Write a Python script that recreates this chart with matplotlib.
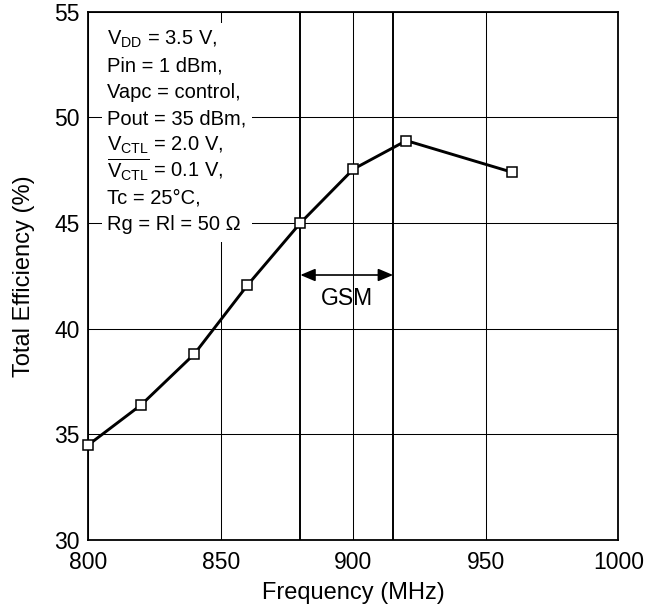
import matplotlib
matplotlib.use("Agg")
import matplotlib.pyplot as plt
from matplotlib.patches import Rectangle

# Measured efficiency vs. frequency
freq_mhz = [800, 820, 840, 860, 880, 900, 920, 960]
efficiency_pct = [34.5, 36.4, 38.8, 42.05, 45.0, 47.55, 48.9, 47.4]

# GSM band edges (MHz)
gsm_band = [880, 915]

x_ticks = [800, 850, 900, 950, 1000]
y_ticks = [30, 35, 40, 45, 50, 55]

conditions = [
    r"V$_{\mathrm{DD}}$ = 3.5 V,",
    "Pin = 1 dBm,",
    "Vapc = control,",
    "Pout = 35 dBm,",
    r"V$_{\mathrm{CTL}}$ = 2.0 V,",
    r"$\overline{\mathrm{V}_{\mathrm{CTL}}}$ = 0.1 V,",
    "Tc = 25\u00b0C,",
    "Rg = Rl = 50 \u03a9",
]

plt.rcParams["font.family"] = ["Liberation Sans", "DejaVu Sans"]
plt.rcParams["mathtext.fontset"] = "custom"
plt.rcParams["mathtext.rm"] = "Liberation Sans"
plt.rcParams["mathtext.it"] = "Liberation Sans:italic"
plt.rcParams["mathtext.bf"] = "Liberation Sans:bold"

fig = plt.figure(figsize=(6.47, 6.13), dpi=100)
ax = fig.add_axes([0.1365, 0.1191, 0.8192, 0.8618])

ax.set_xlim(800, 1000)
ax.set_ylim(30, 55)
ax.set_xticks(x_ticks)
ax.set_yticks(y_ticks)
ax.tick_params(length=0, labelsize=16.5)
ax.tick_params(axis="x", pad=8)
ax.tick_params(axis="y", pad=6)
ax.grid(True, color="black", linewidth=0.75, zorder=1)
for s in ax.spines.values():
    s.set_linewidth(1.3)

for xb in gsm_band:
    ax.axvline(xb, color="black", linewidth=1.4, zorder=1.5)

ax.annotate("", xy=(gsm_band[0], 42.54), xytext=(gsm_band[1], 42.54),
            arrowprops=dict(arrowstyle="<|-|>,head_length=0.9,head_width=0.38",
                            color="black", lw=1.2, shrinkA=0, shrinkB=0),
            zorder=3)
ax.text(sum(gsm_band) / 2, 41.44, "GSM", ha="center", va="center",
        fontsize=16.5, zorder=3)

ax.plot(freq_mhz, efficiency_pct, color="black", linewidth=2.1,
        marker="s", markersize=7.8, markerfacecolor="white",
        markeredgecolor="black", markeredgewidth=1.1, zorder=4,
        clip_on=False)

# Test-condition block on a white panel that hides the grid behind it
ax.add_patch(Rectangle((0.0258, 0.564), 0.283, 0.4146, transform=ax.transAxes,
                       facecolor="white", edgecolor="none", zorder=2))
line_top = 0.937
line_step = 0.04997
for i, line in enumerate(conditions):
    ax.text(0.0358, line_top - i * line_step, line, transform=ax.transAxes,
            ha="left", va="baseline", fontsize=14.5, zorder=5)

ax.set_xlabel("Frequency (MHz)", fontsize=17, labelpad=6)
ax.set_ylabel("Total Efficiency (%)", fontsize=17, labelpad=14)

fig.savefig("out.png", dpi=100)
